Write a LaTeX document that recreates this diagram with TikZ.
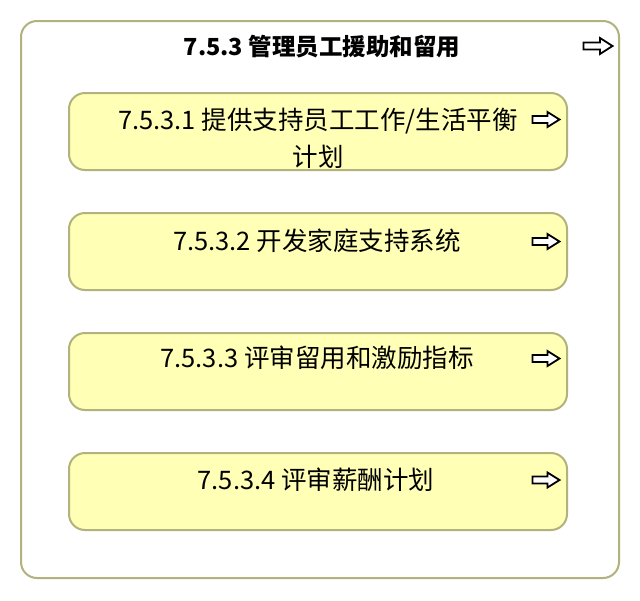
\documentclass[tikz,border=0pt]{standalone}
\usepackage{fontspec}
\setmainfont{Noto Sans CJK SC}
\definecolor{boxline}{RGB}{178,178,125}
\definecolor{boxfill}{RGB}{255,255,181}
\begin{document}
\begin{tikzpicture}[x=1pt,y=-1pt,
    outerbox/.style={draw=boxline, line width=2pt, rounded corners=16pt, fill=white, inner sep=0pt},
    taskbox/.style={draw=boxline, line width=2pt, rounded corners=16pt, fill=boxfill,
                    minimum width=498pt, minimum height=77pt, inner sep=0pt},
    tasktext/.style={font=\fontsize{25.5}{37}\selectfont, align=center, inner sep=0pt},
    icon/.style={draw=black, line width=1.8pt, fill=white, line join=miter}]
    \useasboundingbox (0,0) rectangle (640,600);

    \node[outerbox, minimum width=598pt, minimum height=557pt] (group) at (320,299.5) {};
    \node[font=\bfseries\fontsize{23.5}{26}\selectfont, inner sep=0pt] (title) at (322,47) {7.5.3 管理员工援助和留用};

    \node[taskbox] (task1) at (318,131.5) {};
    \node[taskbox] (task2) at (318,251.5) {};
    \node[taskbox] (task3) at (318,371.5) {};
    \node[taskbox] (task4) at (318,491.5) {};

    \node[tasktext] (text1) at (318,138.5) {7.5.3.1 提供支持员工工作/生活平衡\\计划};
    \node[tasktext] (text2) at (317,241) {7.5.3.2 开发家庭支持系统};
    \node[tasktext] (text3) at (317,358) {7.5.3.3 评审留用和激励指标};
    \node[tasktext] (text4) at (316,480) {7.5.3.4 评审薪酬计划};

    \draw[icon, shift={(598,46)}] (-14.5,-3.5) -- (2,-3.5) -- (2,-8) -- (14.5,0) -- (2,8) -- (2,3.5) -- (-14.5,3.5) -- cycle;
    \draw[icon, shift={(546,119.5)}] (-13.5,-3.5) -- (1.5,-3.5) -- (1.5,-7.5) -- (13.5,0) -- (1.5,7.5) -- (1.5,3.5) -- (-13.5,3.5) -- cycle;
    \draw[icon, shift={(546,241.5)}] (-13.5,-3.5) -- (1.5,-3.5) -- (1.5,-7.5) -- (13.5,0) -- (1.5,7.5) -- (1.5,3.5) -- (-13.5,3.5) -- cycle;
    \draw[icon, shift={(546,358.5)}] (-13.5,-3.5) -- (1.5,-3.5) -- (1.5,-7.5) -- (13.5,0) -- (1.5,7.5) -- (1.5,3.5) -- (-13.5,3.5) -- cycle;
    \draw[icon, shift={(546,480)}] (-13.5,-3.5) -- (1.5,-3.5) -- (1.5,-7.5) -- (13.5,0) -- (1.5,7.5) -- (1.5,3.5) -- (-13.5,3.5) -- cycle;
\end{tikzpicture}
\end{document}
